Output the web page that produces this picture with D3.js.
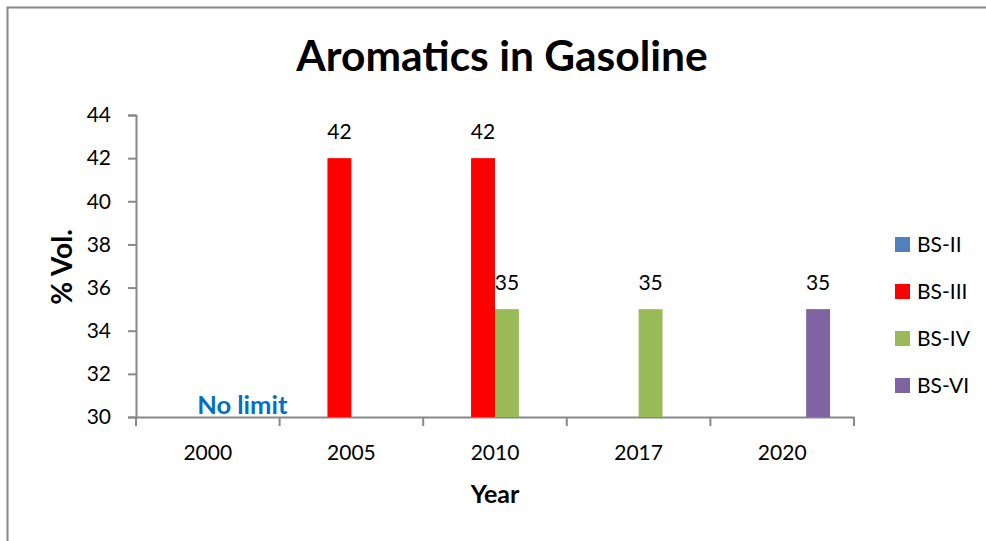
<!DOCTYPE html>
<html>
<head>
<meta charset="utf-8">
<script src="https://cdn.jsdelivr.net/npm/d3@7"></script>
<style>
    body { margin: 0; background: #fff; }
    svg { font-family: Lato, "Open Sans", sans-serif; }
</style>
</head>
<body>
<div id="chart"></div>
<script>
// chart data
var years = ["2000", "2005", "2010", "2017", "2020"];
var seriesNames = ["BS-II", "BS-III", "BS-IV", "BS-VI"];
var seriesColors = ["#4F81BD", "#FF0000", "#9BBB59", "#8064A2"];
var bs2 = [null, null, null, null, null];
var bs3 = [null, 42, 42, null, null];
var bs4 = [null, null, 35, 35, null];
var bs6 = [null, null, null, null, 35];
var yTicks = [30, 32, 34, 36, 38, 40, 42, 44];
var noteText = "No limit";

var seriesValues = [bs2, bs3, bs4, bs6];

var svgWidth = 986;
var svgHeight = 541;

var margin = { top: 115, left: 136, right: 132, bottom: 124 };
var width = svgWidth - margin.left - margin.right;
var height = svgHeight - margin.top - margin.bottom;

var svg = d3.select("#chart")
    .append("svg")
    .attr("width", svgWidth)
    .attr("height", svgHeight);

// outer frame
svg.append("rect")
    .attr("x", 7.5)
    .attr("y", 7.5)
    .attr("width", 990)
    .attr("height", 560)
    .attr("fill", "none")
    .attr("stroke", "#888")
    .attr("stroke-width", 2);

// title
svg.append("text")
    .attr("x", 502)
    .attr("y", 71)
    .attr("text-anchor", "middle")
    .attr("font-size", 42.5)
    .attr("font-weight", "bold")
    .text("Aromatics in Gasoline");

var chartGroup = svg.append("g")
    .attr("transform", `translate(${margin.left}, ${margin.top})`);

// scales
var xScale = d3.scaleBand()
    .domain(years)
    .range([0, width]);

var xInner = d3.scaleBand()
    .domain(seriesNames)
    .range([0, xScale.bandwidth()])
    .paddingOuter(1);

var yScale = d3.scaleLinear()
    .domain([30, 44])
    .range([height, 0]);

// axes
var leftAxis = d3.axisLeft(yScale)
    .tickValues(yTicks)
    .tickSize(8)
    .tickPadding(17);

var yAxis = chartGroup.append("g").call(leftAxis);
yAxis.select(".domain").attr("stroke", "#888").attr("stroke-width", 2);
yAxis.selectAll(".tick line").attr("stroke", "#888").attr("stroke-width", 2);
yAxis.selectAll(".tick text")
    .attr("font-size", 21)
    .attr("fill", "#000")
    .attr("font-family", "Lato, sans-serif");

var bottomAxis = d3.axisBottom(xScale)
    .tickSize(0)
    .tickPadding(43);

var xAxis = chartGroup.append("g")
    .attr("transform", `translate(0, ${height})`)
    .call(bottomAxis);
xAxis.select(".domain").attr("stroke", "#888").attr("stroke-width", 2);
xAxis.selectAll(".tick text")
    .attr("dy", 0)
    .attr("font-size", 21)
    .attr("fill", "#000")
    .attr("font-family", "Lato, sans-serif");

// category boundary ticks
var bounds = years.map(d => xScale(d)).concat([width]);
xAxis.selectAll(".bound")
    .data(bounds)
    .enter()
    .append("line")
    .attr("x1", d => d)
    .attr("x2", d => d)
    .attr("y1", 0)
    .attr("y2", 9)
    .attr("stroke", "#888")
    .attr("stroke-width", 2);

// bars
var barData = [];
seriesNames.forEach(function (name, i) {
    years.forEach(function (year, j) {
        if (seriesValues[i][j] !== null) {
            barData.push({ series: name, year: year, value: seriesValues[i][j], color: seriesColors[i] });
        }
    });
});

chartGroup.selectAll(".bar")
    .data(barData)
    .enter()
    .append("rect")
    .attr("class", "bar")
    .attr("x", d => xScale(d.year) + xInner(d.series))
    .attr("y", d => yScale(d.value))
    .attr("width", xInner.bandwidth())
    .attr("height", d => height - yScale(d.value))
    .attr("fill", d => d.color);

// value labels
chartGroup.selectAll(".valueLabel")
    .data(barData)
    .enter()
    .append("text")
    .attr("class", "valueLabel")
    .attr("x", d => xScale(d.year) + xInner(d.series) + xInner.bandwidth() / 2)
    .attr("y", d => yScale(d.value) - 19)
    .attr("text-anchor", "middle")
    .attr("font-size", 21)
    .text(d => d.value);

// "No limit" note at 2000
chartGroup.append("text")
    .attr("x", xScale("2000") + xScale.bandwidth() * 0.74)
    .attr("y", height - 3)
    .attr("text-anchor", "middle")
    .attr("font-size", 25.5)
    .attr("font-weight", "bold")
    .attr("fill", "#0070C0")
    .text(noteText);

// axis titles
svg.append("text")
    .attr("transform", "rotate(-90)")
    .attr("x", -267)
    .attr("y", 72)
    .attr("text-anchor", "middle")
    .attr("font-size", 28)
    .attr("font-weight", "bold")
    .text("% Vol.");

svg.append("text")
    .attr("x", 495)
    .attr("y", 503)
    .attr("text-anchor", "middle")
    .attr("font-size", 25)
    .attr("font-weight", "bold")
    .text("Year");

// legend
var legend = svg.selectAll(".legend")
    .data(seriesNames)
    .enter()
    .append("g")
    .attr("class", "legend")
    .attr("transform", (d, i) => `translate(895, ${244 + i * 47})`);

legend.append("rect")
    .attr("x", 0)
    .attr("y", -7)
    .attr("width", 15)
    .attr("height", 15)
    .attr("fill", (d, i) => seriesColors[i]);

legend.append("text")
    .attr("x", 22)
    .attr("y", 8)
    .attr("font-size", 21)
    .text(d => d);
</script>
</body>
</html>
